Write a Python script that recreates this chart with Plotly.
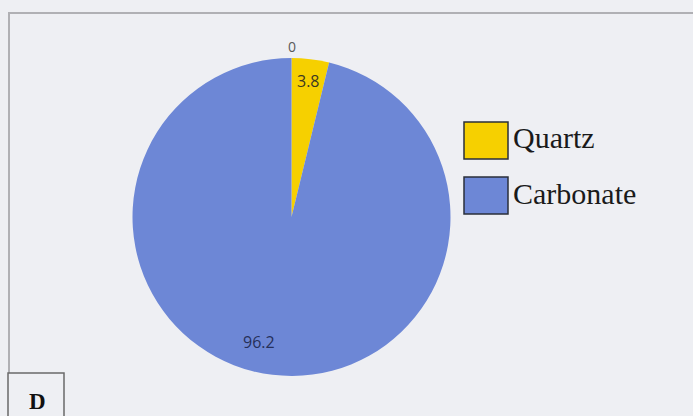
import plotly.graph_objects as go

# Mineral composition (percent)
categories = ["Quartz", "Carbonate"]
percentages = [3.8, 96.2]
zero_label = 0  # empty component shown at the start of the circle
slice_colors = ["#F6D000", "#6D87D6"]
panel_letter = "D"

W, H = 693, 416

# pie geometry in pixels
cx, cy, r = 291.5, 217, 159


def px(x):
    return x / W


def py(y):
    return 1 - y / H


fig = go.Figure(
    go.Pie(
        labels=categories,
        values=percentages,
        sort=False,
        direction="clockwise",
        rotation=0,
        marker=dict(colors=slice_colors, line=dict(width=0)),
        textinfo="none",
        hoverinfo="label+value",
        showlegend=False,
        domain=dict(x=[px(cx - r), px(cx + r)], y=[py(cy + r), py(cy - r)]),
    )
)

annotations = []
# value labels
label_texts = [str(zero_label)] + [f"{v:g}" for v in percentages]
label_xy = [(292, 46), (308, 81), (259, 342)]
label_colors = ["#5a5a5a", "#3d3822", "#26305a"]
label_sizes = [14, 16, 16]
for t, (lx, ly), c, s in zip(label_texts, label_xy, label_colors, label_sizes):
    annotations.append(dict(
        x=px(lx), y=py(ly), xref="paper", yref="paper", text=t, showarrow=False,
        font=dict(family="Open Sans, Liberation Sans, sans-serif", size=s, color=c),
        xanchor="center", yanchor="middle",
    ))

shapes = [
    # chart frame
    dict(type="rect", xref="paper", yref="paper", x0=px(9), x1=px(W + 5), y0=py(H + 5), y1=py(13),
         line=dict(color="#B0B0B4", width=2), fillcolor="rgba(0,0,0,0)", layer="below"),
]

# legend boxes and names
leg_top = [122, 177]
for name, col, top in zip(categories, slice_colors, leg_top):
    shapes.append(dict(type="rect", xref="paper", yref="paper",
                       x0=px(464), x1=px(508), y0=py(top + 37), y1=py(top),
                       fillcolor=col, line=dict(color="#2a2f3a", width=1.5)))
    annotations.append(dict(
        x=px(511), y=py(top + 16), xref="paper", yref="paper", text=name, showarrow=False,
        font=dict(family="Liberation Serif, Times New Roman, serif", size=30, color="#1a1a1a"),
        xanchor="left", yanchor="middle",
    ))

# panel letter box
shapes.append(dict(type="rect", xref="paper", yref="paper", x0=px(8), x1=px(64), y0=py(H + 5), y1=py(373),
                   fillcolor="#EEEFF3", line=dict(color="#6a6a6a", width=1.5)))
annotations.append(dict(
    x=px(37), y=py(401), xref="paper", yref="paper", text=f"<b>{panel_letter}</b>", showarrow=False,
    font=dict(family="Liberation Serif, Times New Roman, serif", size=23, color="#111111"),
    xanchor="center", yanchor="middle",
))

fig.update_layout(
    width=W, height=H,
    margin=dict(l=0, r=0, t=0, b=0),
    paper_bgcolor="#EEEFF3",
    plot_bgcolor="#EEEFF3",
    shapes=shapes,
    annotations=annotations,
)

fig.write_html("out.html")
